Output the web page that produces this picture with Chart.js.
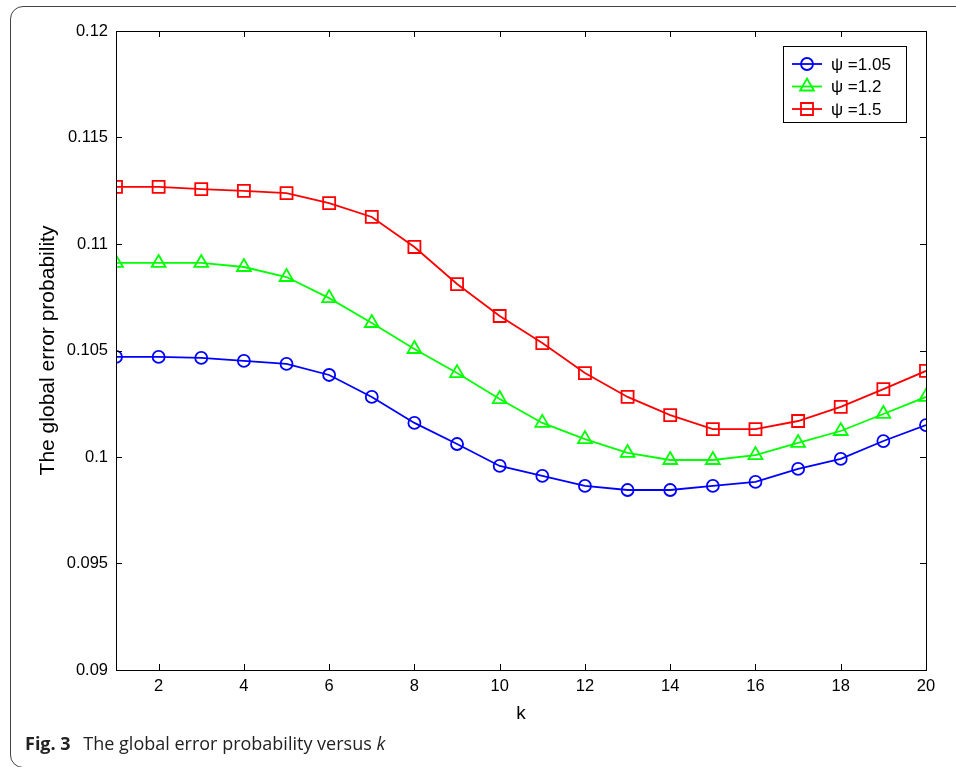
<!DOCTYPE html>
<html>
<head>
<meta charset="utf-8">
<script src="https://cdn.jsdelivr.net/npm/chart.js@4.4.1/dist/chart.umd.min.js"></script>
<style>
  html, body { margin: 0; padding: 0; background: #fff; }
  #wrap { position: relative; width: 956px; height: 767px; overflow: hidden; }
  #frame { position: absolute; left: 10px; top: 6px; width: 1000px; height: 762px; border: 1px solid #444; border-radius: 13px; box-sizing: border-box; }
  #box { position: absolute; left: 0; top: 0; width: 956px; height: 767px; }
  #caption { position: absolute; left: 25px; top: 731px; font-family: "Open Sans", sans-serif; font-size: 18px; color: #222; white-space: nowrap; }
  #caption b { font-weight: 700; margin-right: 8px; }
</style>
</head>
<body>
<div id="wrap">
  <div id="frame"></div>
  <div id="box"><canvas id="errChart" width="956" height="767"></canvas></div>
  <div id="caption"><b>Fig. 3</b> The global error probability versus <i>k</i></div>
</div>
<script>
var kValues = [1,2,3,4,5,6,7,8,9,10,11,12,13,14,15,16,17,18,19,20];
var psi105 = [0.10470,0.10470,0.10465,0.10451,0.10437,0.10385,0.10282,0.10160,0.10061,0.09958,0.09911,0.09864,0.09845,0.09845,0.09864,0.09883,0.09944,0.09991,0.10075,0.10150];
var psi12 = [0.10911,0.10911,0.10911,0.10892,0.10845,0.10746,0.10629,0.10507,0.10394,0.10272,0.10160,0.10084,0.10019,0.09986,0.09986,0.10009,0.10066,0.10122,0.10202,0.10282];
var psi15 = [0.11268,0.11268,0.11258,0.11249,0.11239,0.11192,0.11127,0.10986,0.10812,0.10662,0.10535,0.10394,0.10282,0.10197,0.10131,0.10131,0.10169,0.10235,0.10319,0.10404];
var xTicks = [2,4,6,8,10,12,14,16,18,20];
var yTicks = [0.09,0.095,0.1,0.105,0.11,0.115,0.12];
var seriesLabels = ["ψ =1.05", "ψ =1.2", "ψ =1.5"];

(function () {
  'use strict';

  function pts(arr) {
    return arr.map(function (v, i) { return { x: kValues[i], y: v }; });
  }

  // matlab style box + inward ticks + legend box
  var matlabBox = {
    id: 'matlabBox',
    afterDraw: function (chart) {
      var ctx = chart.ctx, a = chart.chartArea;
      var xs = chart.scales.x, ys = chart.scales.y;
      var tl = 6;
      ctx.save();
      ctx.strokeStyle = '#000';
      ctx.lineWidth = 1;
      ctx.strokeRect(Math.round(a.left) + 0.5, Math.round(a.top) + 0.5, Math.round(a.right - a.left), Math.round(a.bottom - a.top));
      ctx.beginPath();
      xs.ticks.forEach(function (t) {
        var px = Math.round(xs.getPixelForValue(t.value)) + 0.5;
        ctx.moveTo(px, a.bottom); ctx.lineTo(px, a.bottom - tl);
        ctx.moveTo(px, a.top); ctx.lineTo(px, a.top + tl);
      });
      ys.ticks.forEach(function (t) {
        var py = Math.round(ys.getPixelForValue(t.value)) + 0.5;
        ctx.moveTo(a.left, py); ctx.lineTo(a.left + tl, py);
        ctx.moveTo(a.right, py); ctx.lineTo(a.right - tl, py);
      });
      ctx.stroke();

      // legend
      var lx = 783, ly = 46, lw = 123, lh = 76;
      ctx.fillStyle = '#fff';
      ctx.fillRect(lx, ly, lw, lh);
      ctx.strokeRect(lx + 0.5, ly + 0.5, lw, lh);
      ctx.font = '17px "Liberation Sans", Arial, sans-serif';
      ctx.textBaseline = 'middle';
      chart.data.datasets.forEach(function (ds, i) {
        var cy = 64 + i * 22.5;
        ctx.strokeStyle = ds.borderColor;
        ctx.fillStyle = 'rgba(0,0,0,0)';
        ctx.lineWidth = 1.8;
        ctx.beginPath();
        ctx.moveTo(792, cy); ctx.lineTo(822, cy);
        ctx.stroke();
        Chart.helpers.drawPoint(ctx, { pointStyle: ds.pointStyle, radius: ds.pointRadius, borderWidth: 1.8 }, 807, cy);
        ctx.fillStyle = '#000';
        ctx.fillText(ds.label, 831, cy + 1);
      });
      ctx.restore();
    }
  };

  var tickFont = { family: '"Liberation Sans", Arial, sans-serif', size: 16.5 };

  function mkSet(label, data, color, style, r) {
    return {
      label: label, data: pts(data), borderColor: color, backgroundColor: 'rgba(0,0,0,0)',
      borderWidth: 1.8, pointStyle: style, pointRadius: r, pointBorderWidth: 1.8,
      pointBorderColor: color, pointBackgroundColor: 'rgba(0,0,0,0)', tension: 0, fill: false
    };
  }

  var ctx = document.getElementById('errChart').getContext('2d');
  new Chart(ctx, {
    type: 'line',
    data: {
      datasets: [
        mkSet(seriesLabels[0], psi105, '#0000ff', 'circle', 6),
        mkSet(seriesLabels[1], psi12, '#00ff00', 'triangle', 8),
        mkSet(seriesLabels[2], psi15, '#ff0000', 'rect', 8.5)
      ]
    },
    options: {
      responsive: false, animation: false,
      layout: { padding: { left: 32, right: 30, top: 31, bottom: 38 } },
      plugins: { legend: { display: false }, tooltip: { enabled: false } },
      scales: {
        x: {
          type: 'linear', min: 1, max: 20,
          grid: { display: false, drawTicks: false }, border: { display: false },
          afterBuildTicks: function (s) { s.ticks = xTicks.map(function (v) { return { value: v }; }); },
          afterFit: function (s) { s.height = 59; },
          ticks: { color: '#000', font: tickFont, padding: 7, maxRotation: 0, autoSkip: false },
          title: { display: true, text: 'k', color: '#000', font: { family: '"Liberation Sans", Arial, sans-serif', size: 19 } }
        },
        y: {
          min: 0.09, max: 0.12,
          grid: { display: false, drawTicks: false }, border: { display: false },
          afterBuildTicks: function (s) { s.ticks = yTicks.map(function (v) { return { value: v }; }); },
          afterFit: function (s) { s.width = 84; },
          ticks: { color: '#000', font: tickFont, padding: 8, autoSkip: false,
            callback: function (v) { return String(Number(v.toFixed(3))); } },
          title: { display: true, text: 'The global error probability', color: '#000', font: { family: '"Liberation Sans", Arial, sans-serif', size: 21 } }
        }
      }
    },
    plugins: [matlabBox]
  });
})();
</script>
</body>
</html>
